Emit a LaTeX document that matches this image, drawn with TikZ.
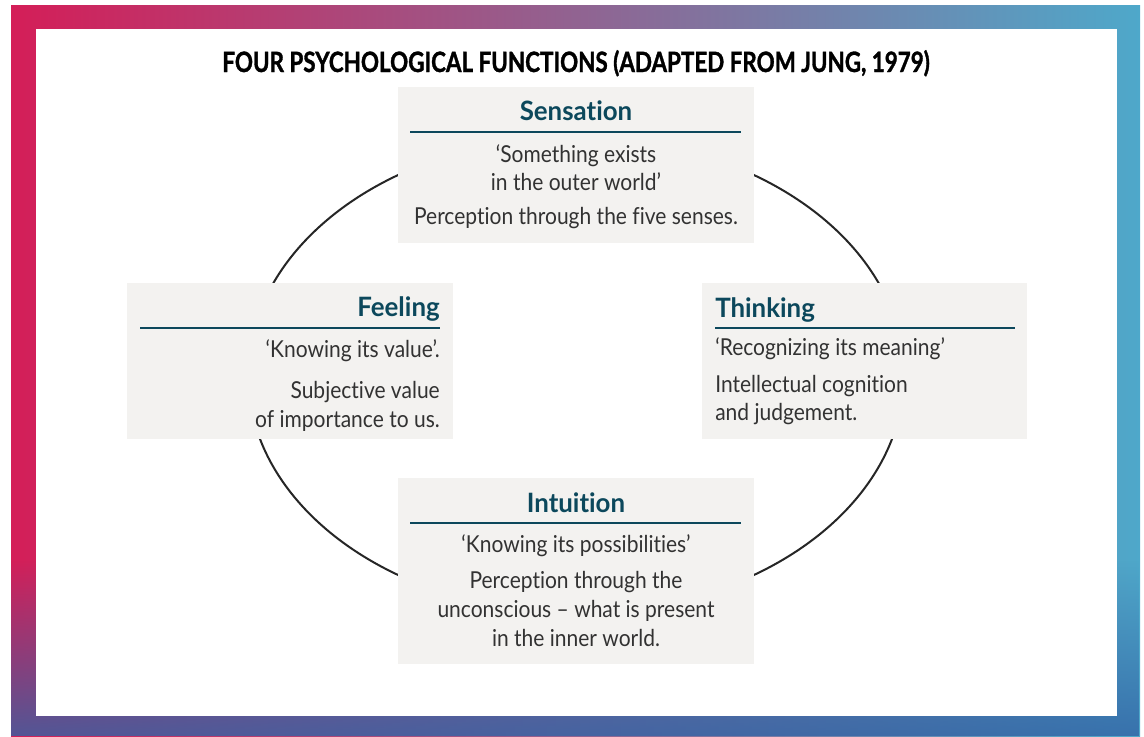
\documentclass[tikz,border=0pt]{standalone}
\usepackage{fontspec}
\setmainfont{Lato}[FakeStretch=0.9, Ligatures=NoCommon]
\newfontfamily\headfont{Lato}[FakeStretch=0.97, Ligatures=NoCommon]
\newfontfamily\titlefont{Lato}[FakeStretch=0.8, BoldFeatures={FakeBold=1.2}]
\usepackage{tikz}
\usetikzlibrary{positioning, fadings}

\definecolor{jungteal}{RGB}{12, 72, 92}
\definecolor{boxgrey}{RGB}{243, 242, 240}
\definecolor{inkgrey}{RGB}{50, 50, 50}
\definecolor{framered}{RGB}{212, 30, 88}
\definecolor{framepurple}{RGB}{120, 58, 138}
\definecolor{frameblue}{RGB}{78, 168, 202}
\definecolor{framedeep}{RGB}{50, 100, 165}

\begin{document}
\begin{tikzpicture}[
  x=0.75pt, y=-0.75pt,
  fnbox/.style={fill=boxgrey, inner sep=0pt, anchor=north west},
  fnhead/.style={font=\headfont\fontsize{20}{24}\selectfont\bfseries, text=jungteal, inner sep=0pt, anchor=base},
  fntext/.style={font=\fontsize{17.5}{21}\selectfont, text=inkgrey, inner sep=0pt, anchor=base},
  fnrule/.style={draw=jungteal, line width=1.4pt}
]
  \useasboundingbox (0,0) rectangle (1144,736);

  % frame and white panel
  \shade[left color=framered, middle color=framepurple, right color=frameblue] (11,5) rectangle (1140,736);
  \fill[framedeep, path fading=north, opacity=0.8] (11,560) rectangle (1140,736);
  \fill[white] (36,29) rectangle (1117,716);

  \node[font=\titlefont\fontsize{21}{25}\selectfont\bfseries, text=black, inner sep=0pt, anchor=base] (title) at (576,72) {FOUR PSYCHOLOGICAL FUNCTIONS (ADAPTED FROM JUNG, 1979)};

  \draw[line width=1.5pt, draw=black!85] (576,375) ellipse [x radius=328, y radius=238];

  % Sensation
  \node[fnbox, minimum width=267pt, minimum height=117pt] (sensbox) at (398,87) {};
  \node[fnhead] (senshead) at (576,120) {Sensation};
  \draw[fnrule] (410,132) -- (741,132);
  \node[fntext] (sensa) at (576,162) {‘Something exists};
  \node[fntext] (sensb) at (576,190) {in the outer world’};
  \node[fntext] (sensc) at (576,224) {Perception through the five senses.};

  % Feeling
  \node[fnbox, minimum width=244.5pt, minimum height=117pt] (feelbox) at (127,283) {};
  \node[fnhead, anchor=base east] (feelhead) at (440,316) {Feeling};
  \draw[fnrule] (140,328) -- (440,328);
  \node[fntext, anchor=base east] (feela) at (440,357) {‘Knowing its value’.};
  \node[fntext, anchor=base east] (feelb) at (440,398) {Subjective value};
  \node[fntext, anchor=base east] (feelc) at (440,427) {of importance to us.};

  % Thinking
  \node[fnbox, minimum width=243.75pt, minimum height=117pt] (thinkbox) at (702,283) {};
  \node[fnhead, anchor=base west] (thinkhead) at (715,317) {Thinking};
  \draw[fnrule] (715,328) -- (1015,328);
  \node[fntext, anchor=base west] (thinka) at (715,355) {‘Recognizing its meaning’};
  \node[fntext, anchor=base west] (thinkb) at (715,392) {Intellectual cognition};
  \node[fntext, anchor=base west] (thinkc) at (715,420) {and judgement.};

  % Intuition
  \node[fnbox, minimum width=267pt, minimum height=139.5pt] (intubox) at (398,478) {};
  \node[fnhead] (intuhead) at (576,512) {Intuition};
  \draw[fnrule] (410,523) -- (741,523);
  \node[fntext] (intua) at (576,552) {‘Knowing its possibilities’};
  \node[fntext] (intub) at (576,588) {Perception through the};
  \node[fntext] (intuc) at (576,617) {unconscious – what is present};
  \node[fntext] (intud) at (576,646) {in the inner world.};
\end{tikzpicture}
\end{document}
